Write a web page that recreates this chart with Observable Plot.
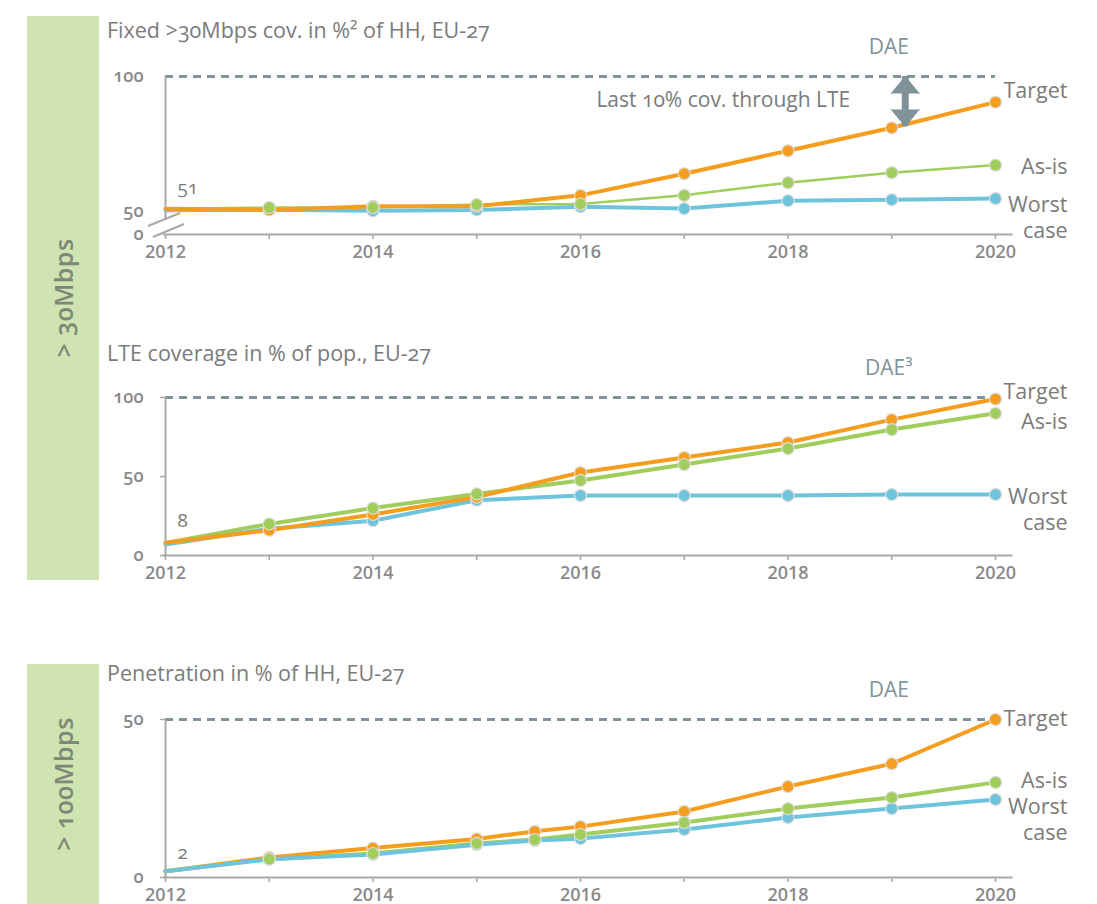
<!DOCTYPE html>
<html><head><meta charset="utf-8">
<script src="https://cdn.jsdelivr.net/npm/d3@7"></script>
<script src="https://cdn.jsdelivr.net/npm/@observablehq/plot@0.6"></script>
<style>
html,body{margin:0;padding:0;background:#fff;overflow:hidden;}
body{width:1097px;height:904px;position:relative;font-family:"Open Sans",sans-serif;font-variant-numeric:oldstyle-nums;}
.bar{position:absolute;left:27px;width:72px;background:#d0e4b1;}
.bar span{position:absolute;left:50%;top:50%;transform:translate(-50%,-50%) rotate(-90deg);white-space:nowrap;font-size:25px;letter-spacing:0.5px;font-weight:600;color:#7e8877;}
.title{position:absolute;left:107px;font-size:21.5px;line-height:26px;color:#7b7b7b;white-space:nowrap;z-index:2;}
.panel{position:absolute;left:0;z-index:1;}
svg{font-family:"Open Sans",sans-serif;font-variant-numeric:oldstyle-nums;background:transparent !important;}
</style></head><body>
<div class="bar" style="top:16px;height:564px"><span id="bar1"></span></div>
<div class="bar" style="top:664px;height:240px"><span id="bar2"></span></div>
<div class="panel" id="p1" style="top:26px"></div>
<div class="panel" id="p2" style="top:347px"></div>
<div class="panel" id="p3" style="top:669px"></div>
<div class="title" id="t1" style="top:17px"></div>
<div class="title" id="t2" style="top:340px"></div>
<div class="title" id="t3" style="top:660px"></div>
<script>
// ---- data ----
const years = [2012, 2013, 2014, 2015, 2016, 2017, 2018, 2019, 2020];
const evenYears = [2012, 2014, 2016, 2018, 2020];
const seriesNames = ["Target", "As-is", "Worst case"];
const seriesLabels = ["Target", "As-is", "Worst\ncase"];
const colors = ["#f59d1e", "#a0cd5c", "#6fc4dd"];
const bandLabels = ["> 30Mbps", "> 100Mbps"];
const titles = ["Fixed >30Mbps cov. in %\u00B2 of HH, EU-27", "LTE coverage in % of pop., EU-27", "Penetration in % of HH, EU-27"];

// Panel 1: fixed >30Mbps coverage (broken axis: 0 .. 50 compressed)
const fixedTarget = [51, 50.6, 52, 52, 56, 64, 72.5, 81, 90.5];
const fixedAsIs   = [51, 51.5, 51.5, 52.6, 52.8, 56, 60.7, 64.4, 67.2];
const fixedWorst  = [50.5, 50.7, 50.3, 50.6, 51.8, 51.1, 54, 54.4, 54.8];
const fixedYTicks = [0, 50, 100];
const fixedStart = "51";
const fixedDAE = 100;
const fixedGapNote = "Last 10% cov. through LTE";
const fixedGap = [100, 81.5];

// Panel 2: LTE coverage
const lteTarget = [8, 16, 26, 37, 52.5, 62, 71.5, 86, 99];
const lteAsIs   = [8, 20, 30, 39, 47.5, 57.6, 67.7, 79.7, 90];
const lteWorst  = [7, 17, 22, 35, 38, 38, 38, 38.6, 38.6];
const lteYTicks = [0, 50, 100];
const lteStart = "8";
const lteDAE = 100;

// Panel 3: >100Mbps penetration
const penYears  = [2012, 2013, 2014, 2015, 2015.56, 2016, 2017, 2018, 2019, 2020];
const penTarget = [2, 6.3, 9.3, 12.2, 14.6, 16.1, 20.9, 28.8, 36, 50];
const penAsIs   = [2, 5.8, 7.6, 10.8, 12, 13.6, 17.4, 21.8, 25.3, 30.1];
const penWorst  = [2, 5.8, 7.3, 10.4, 11.7, 12.3, 15.2, 19, 21.8, 24.7];
const penYTicks = [0, 50];
const penStart = "2";
const penDAE = 50;

// ---- styling ----
const daeColor = "#809399";
const axisColor = "#a8a8a8";
const textColor = "#7b7b7b";
const tickColor = "#8a8a8a";

document.getElementById("bar1").textContent = bandLabels[0];
document.getElementById("bar2").textContent = bandLabels[1];
["t1","t2","t3"].forEach((id, i) => document.getElementById(id).textContent = titles[i]);

function tidy(xs, arrs) {
  return arrs.flatMap((vals, i) => vals.map((v, j) => ({x: xs[j], y: v, s: seriesNames[i]})));
}

function buildPanel(cfg) {
  const rows = tidy(cfg.xs, cfg.values);
  const bySeries = i => rows.filter(d => d.s === seriesNames[i]);
  const lastX = cfg.xs[cfg.xs.length - 1];
  const marks = [
    Plot.ruleY([cfg.dae], {x1: 2012, x2: 2020, stroke: daeColor, strokeWidth: 3, strokeDasharray: "8,6"}),
    Plot.ruleX([2012], {y1: cfg.axisBottom, y2: cfg.dae, stroke: axisColor, strokeWidth: 2}),
    Plot.ruleY([0], {x1: 2011.98, x2: 2020.17, stroke: axisColor, strokeWidth: 2}),
    Plot.axisX({ticks: years, tickFormat: d => evenYears.includes(d) ? String(d) : "", tickSize: 5, tickPadding: 6,
      stroke: axisColor, strokeWidth: 1.5, fill: tickColor, fontSize: 18, fontWeight: 600, label: null}),
    Plot.ruleY(cfg.showYTicks ? cfg.yTicks : [], {y: d => d, x1: 2011.95, x2: 2012, stroke: axisColor, strokeWidth: 1.5}),
    Plot.text(cfg.yTicks, {y: d => d, x: () => 2012, text: d => String(d), dx: -22, textAnchor: "end",
      fill: tickColor, fontSize: 18, fontWeight: 600}),
    ...cfg.lineOrder.map(i => Plot.line(bySeries(i), {x: "x", y: "y", stroke: colors[i], strokeWidth: cfg.widths[i]})),
    ...[2, 0, 1].map(i => Plot.dot(bySeries(i).filter(d => d.x > 2012), {x: "x", y: "y", r: 6, fill: colors[i], stroke: "#dcdcdc", strokeWidth: 1.2})),
    Plot.text([cfg.startLabel], {x: () => 2012, y: () => cfg.values[0][0], text: d => d, dx: 12, dy: cfg.startDy,
      textAnchor: "start", fill: textColor, fontSize: 19}),
    Plot.text([cfg.daeText], {x: () => 2019, y: () => cfg.dae, text: d => d, dx: -3, dy: -29, fill: daeColor, fontSize: 21, fontWeight: 500}),
    ...seriesNames.map((s, i) => Plot.text([seriesLabels[i]], {x: () => lastX, y: () => cfg.values[i][cfg.values[i].length - 1],
      text: d => d, dx: 72, dy: cfg.labelDy[i], textAnchor: "end", lineHeight: 1.2, fill: textColor, fontSize: 21.5})),
    ...(cfg.extra || [])
  ];
  return Plot.plot({
    width: 1097, height: 244,
    marginLeft: 165, marginRight: 102, marginTop: 50, marginBottom: 36,
    x: {type: "linear", domain: [2012, 2020], axis: null},
    y: Object.assign({type: "linear", axis: null}, cfg.yScale),
    marks
  });
}

// Panel 1 — broken y axis: values below 50 are squeezed into a short stub
const breakLow = 41.5;
const squeeze = v => v >= 50 ? v : breakLow + v * (50 - breakLow) / 50;
const arrowX = 2019.13;
const p1 = buildPanel({
  xs: years, values: [fixedTarget, fixedAsIs, fixedWorst],
  dae: fixedDAE, daeText: "DAE", startLabel: fixedStart, startDy: -21,
  yScale: {domain: [breakLow, 100], transform: squeeze},
  yTicks: fixedYTicks, showYTicks: false, axisBottom: 33,
  lineOrder: [2, 1, 0], widths: [4, 2.5, 4], labelDy: [-12, 1, 18],
  extra: [
    Plot.ruleX([arrowX], {y1: fixedGap[0], y2: fixedGap[1], stroke: daeColor, strokeWidth: 7}),
    Plot.vector([fixedGap[0]], {x: () => arrowX, y: d => d, length: 17, r: 14, rotate: 0, anchor: "end", shape: "spike", fill: daeColor, stroke: daeColor, strokeWidth: 1}),
    Plot.vector([fixedGap[1]], {x: () => arrowX, y: d => d, length: 17, r: 14, rotate: 180, anchor: "end", shape: "spike", fill: daeColor, stroke: daeColor, strokeWidth: 1}),
    Plot.text([fixedGapNote], {x: () => arrowX, y: () => fixedGap[0], text: d => d, dx: -55, dy: 24, textAnchor: "end", fill: textColor, fontSize: 21})
  ]
});
document.getElementById("p1").appendChild(p1);
// axis break marks
{
  const X0 = p1.scale("x").apply(2012), Y0 = p1.scale("y").apply(breakLow);
  const g = d3.select(p1).append("g").attr("stroke", axisColor).attr("stroke-width", 2);
  [[[-17, -8], [15, -21]], [[-12, 3], [19, -10]]].forEach(([a, b]) => {
    g.append("line").attr("x1", X0 + a[0]).attr("y1", Y0 + a[1]).attr("x2", X0 + b[0]).attr("y2", Y0 + b[1]);
  });
}

// Panel 2
const p2 = buildPanel({
  xs: years, values: [lteTarget, lteAsIs, lteWorst],
  dae: lteDAE, daeText: "DAE\u00B3", startLabel: lteStart, startDy: -22,
  yScale: {domain: [0, 100]},
  yTicks: lteYTicks, showYTicks: true, axisBottom: 0,
  lineOrder: [2, 1, 0], widths: [4, 4, 4], labelDy: [-8, 7, 14]
});
document.getElementById("p2").appendChild(p2);

// Panel 3
const p3 = buildPanel({
  xs: penYears, values: [penTarget, penAsIs, penWorst],
  dae: penDAE, daeText: "DAE", startLabel: penStart, startDy: -18,
  yScale: {domain: [0, 50]},
  yTicks: penYTicks, showYTicks: true, axisBottom: 0,
  lineOrder: [1, 0, 2], widths: [4, 4, 4], labelDy: [-2, -3, 19]
});
document.getElementById("p3").appendChild(p3);
</script>
</body></html>
